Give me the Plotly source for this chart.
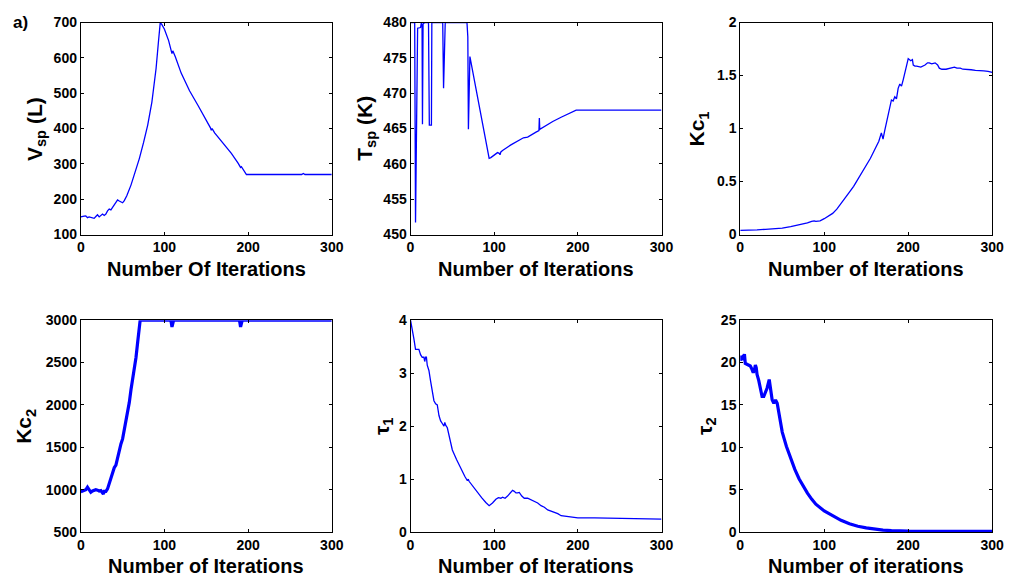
import plotly.graph_objects as go

# ---- Iteration histories -------------------------------------------------
vsp_x = [0, 2, 4, 6, 8, 10, 12, 14, 16, 18, 20, 22, 24, 26, 28, 30, 32, 34, 36, 38,
         40, 42, 44, 46, 48, 50, 52, 55, 60, 65, 70, 75, 80, 85, 90, 93, 95, 97, 100,
         105, 108, 109, 110, 111, 113, 120, 130, 140, 150, 155, 156, 157, 160, 170,
         180, 188, 190, 191, 192, 195, 198, 250, 264, 266, 268, 300]
vsp_y = [150, 150, 152, 153, 148, 150, 149, 148, 146, 151, 156, 150, 153, 158, 154, 158,
         167, 172, 170, 178, 185, 191, 198, 195, 192, 190, 196, 210, 240, 275, 315, 360,
         410, 475, 570, 650, 700, 694, 681, 649, 625, 612, 620, 612, 603, 557, 507, 466,
         425, 402, 395, 400, 388, 358, 330, 302, 293, 290, 292, 280, 270, 270, 270, 273,
         270, 270]

tsp_x = [0, 5, 6, 8, 8.5, 12, 13, 13.8, 14.3, 15, 17, 21.5, 22.5, 25, 25.5, 38.5, 39.5,
         41.5, 67.5, 68.5, 69.2, 71, 94, 96, 100, 104, 106, 107, 108, 110, 120, 130, 135,
         140, 145, 150, 153.5, 154, 154.5, 160, 170, 180, 190, 195, 198, 300]
tsp_y = [480, 480, 451.7, 479.2, 479.2, 479.3, 480, 479.5, 465.6, 479.8, 480, 480, 465.5,
         465.5, 480, 480, 470.7, 480, 480, 478, 464.9, 475.2, 460.8, 460.9, 461.3, 461.6,
         461.5, 461.3, 461.7, 461.9, 462.7, 463.3, 463.7, 463.8, 464.2, 464.5, 464.7,
         466.5, 464.9, 465.3, 466.0, 466.6, 467.2, 467.5, 467.6, 467.6]

kc1_x = [0, 10, 20, 30, 40, 50, 60, 70, 80, 85, 88, 90, 93, 95, 100, 105, 110, 115, 120,
         125, 130, 135, 140, 145, 150, 155, 160, 165, 168, 170, 172, 175, 178, 180, 182,
         184, 186, 188, 190, 192, 194, 196, 198, 200, 203, 205, 206, 208, 210, 215, 220,
         223, 225, 228, 232, 235, 237, 240, 245, 250, 253, 255, 258, 262, 265, 270, 275,
         280, 285, 290, 295, 300]
kc1_y = [0.04, 0.04, 0.045, 0.05, 0.055, 0.06, 0.075, 0.09, 0.11, 0.125, 0.13, 0.125,
         0.125, 0.13, 0.15, 0.175, 0.2, 0.24, 0.29, 0.345, 0.4, 0.455, 0.52, 0.585, 0.65,
         0.72, 0.8, 0.88, 0.96, 0.9, 0.98, 1.08, 1.18, 1.27, 1.26, 1.30, 1.28, 1.38, 1.42,
         1.40, 1.46, 1.52, 1.58, 1.66, 1.64, 1.65, 1.60, 1.59, 1.59, 1.58, 1.60, 1.62,
         1.62, 1.61, 1.62, 1.60, 1.57, 1.56, 1.56, 1.57, 1.57, 1.58, 1.57, 1.57, 1.56,
         1.56, 1.555, 1.55, 1.55, 1.545, 1.54, 1.53]

kc2_x = [0, 2, 4, 6, 8, 10, 12, 14, 16, 18, 20, 22, 24, 26, 27, 28, 30, 32, 34, 36, 38,
         40, 42, 44, 46, 48, 50, 52, 54, 56, 58, 60, 62, 64, 66, 68, 70, 71, 107, 108,
         109, 110, 111, 189, 190, 191, 192, 193, 300]
kc2_y = [975, 985, 990, 1000, 1030, 990, 970, 985, 990, 1000, 995, 985, 990, 960, 950,
         980, 980, 1010, 1080, 1150, 1220, 1260, 1290, 1380, 1470, 1540, 1600, 1700, 1800,
         1900, 2030, 2180, 2290, 2420, 2560, 2740, 2930, 3000, 3000, 2980, 2920, 2980,
         3000, 3000, 2980, 2920, 2980, 3000, 3000]

tau1_x = [0, 2, 4, 6, 8, 10, 12, 14, 16, 17, 18, 19, 20, 22, 24, 26, 28, 30, 32, 34, 36,
          38, 40, 41, 42, 44, 46, 48, 50, 55, 60, 65, 68, 69, 70, 75, 80, 85, 90, 94, 98,
          102, 105, 108, 110, 113, 116, 120, 122, 124, 126, 128, 130, 133, 136, 140, 144,
          148, 152, 156, 160, 164, 168, 172, 176, 180, 185, 190, 195, 200, 220, 240, 260,
          280, 300]
tau1_y = [4.0, 3.85, 3.65, 3.45, 3.45, 3.45, 3.35, 3.3, 3.3, 3.22, 3.3, 3.3, 3.15, 3.05,
          2.85, 2.65, 2.48, 2.42, 2.4, 2.2, 2.1, 2.05, 2.0, 2.07, 2.02, 1.97, 1.82, 1.68,
          1.55, 1.37, 1.2, 1.05, 0.97, 1.0, 0.96, 0.85, 0.75, 0.65, 0.56, 0.5, 0.55, 0.62,
          0.65, 0.64, 0.66, 0.64, 0.68, 0.75, 0.79, 0.77, 0.74, 0.74, 0.75, 0.68, 0.64,
          0.64, 0.61, 0.59, 0.55, 0.5, 0.47, 0.42, 0.4, 0.38, 0.35, 0.31, 0.30, 0.29, 0.28,
          0.27, 0.27, 0.265, 0.26, 0.255, 0.245]

tau2_x = [0, 1, 2, 3, 4, 5, 6, 8, 10, 12, 14, 15.5, 17, 18, 19, 20, 22, 24, 26, 28, 30,
          32, 34.5, 36, 38, 40, 42, 44, 46, 48, 50, 55, 60, 65, 70, 75, 80, 85, 90, 100,
          110, 120, 130, 140, 150, 160, 170, 180, 190, 200, 250, 300]
tau2_y = [20.2, 20.8, 20.3, 20.6, 20.5, 21.0, 19.9, 19.8, 19.8, 19.6, 19.2, 18.8, 19.2,
          19.7, 19.4, 18.6, 17.9, 17.0, 16.0, 16.0, 16.4, 17.0, 18.0, 16.8, 15.6, 15.2,
          15.6, 15.2, 14.0, 12.9, 11.8, 10.1, 8.6, 7.4, 6.3, 5.4, 4.6, 3.9, 3.3, 2.5, 1.9,
          1.4, 1.0, 0.7, 0.5, 0.35, 0.25, 0.18, 0.14, 0.12, 0.1, 0.1]

x_ticks = [0, 100, 200, 300]
y_ticks = [
    [100, 200, 300, 400, 500, 600, 700],
    [450, 455, 460, 465, 470, 475, 480],
    [0, 0.5, 1, 1.5, 2],
    [500, 1000, 1500, 2000, 2500, 3000],
    [0, 1, 2, 3, 4],
    [0, 5, 10, 15, 20, 25],
]
y_titles = ["V<sub>sp</sub> (L)", "T<sub>sp</sub> (K)", "Kc<sub>1</sub>",
            "Kc<sub>2</sub>", "τ<sub>1</sub>", "τ<sub>2</sub>"]
x_titles = ["Number Of Iterations", "Number of Iterations", "Number of Iterations",
            "Number of Iterations", "Number of Iterations", "Number of iterations"]

series = [(vsp_x, vsp_y), (tsp_x, tsp_y), (kc1_x, kc1_y),
          (kc2_x, kc2_y), (tau1_x, tau1_y), (tau2_x, tau2_y)]
widths = [1.3, 1.3, 1.3, 3.2, 1.3, 3.2]

# ---- Layout geometry (pixels) -------------------------------------------
W, H = 1018, 581
col_px = [(78, 333), (413, 668), (748, 1004)]
row_px = [(15, 233), (321, 539)]
ytitle_cx = [[32, 367, 705], [22, 385, 713]]
xtitle_top = [255, 560]

FONT = "Liberation Sans, Arial, sans-serif"
tick_font = dict(family=FONT, size=14, color="black", weight="bold")

fig = go.Figure()
layout = dict(width=W, height=H, margin=dict(l=0, r=0, t=0, b=0),
              paper_bgcolor="white", plot_bgcolor="white", showlegend=False)
annotations = []

for i, (xs, ys) in enumerate(series):
    r, c = divmod(i, 3)
    k = "" if i == 0 else str(i + 1)
    fig.add_trace(go.Scatter(x=xs, y=ys, mode="lines", xaxis="x" + k, yaxis="y" + k,
                             line=dict(color="#0000FF", width=widths[i]),
                             hoverinfo="skip"))
    x0, x1 = col_px[c]
    y0, y1 = row_px[r]
    yt = y_ticks[i]
    common = dict(showline=True, linecolor="black", linewidth=1, mirror="ticks",
                  ticks="inside", ticklen=3, tickcolor="black", tickwidth=1,
                  showgrid=False, zeroline=False, tickfont=tick_font)
    layout["xaxis" + k] = dict(domain=[x0 / W, x1 / W], range=[0, 300],
                               tickvals=x_ticks, anchor="y" + k, **common)
    layout["yaxis" + k] = dict(domain=[1 - y1 / H, 1 - y0 / H], range=[yt[0], yt[-1]],
                               tickvals=yt, ticktext=[f"{v:g}" for v in yt],
                               anchor="x" + k, **common)
    annotations.append(dict(text=y_titles[i], xref="paper", yref="paper",
                            x=ytitle_cx[r][c] / W, y=1 - (y0 + y1) / 2 / H,
                            xanchor="center", yanchor="middle", textangle=-90,
                            showarrow=False,
                            font=dict(family=FONT, size=21, color="black", weight="bold")))
    annotations.append(dict(text=x_titles[i], xref="paper", yref="paper",
                            x=(x0 + x1) / 2 / W, y=1 - xtitle_top[r] / H,
                            xanchor="center", yanchor="top", showarrow=False,
                            font=dict(family=FONT, size=20, color="black", weight="bold")))

annotations.append(dict(text="a)", xref="paper", yref="paper", x=7 / W, y=1 - 3 / H,
                        xanchor="left", yanchor="top", showarrow=False,
                        font=dict(family=FONT, size=17, color="black", weight="bold")))

layout["annotations"] = annotations
fig.update_layout(**layout)
fig.write_html("out.html")
